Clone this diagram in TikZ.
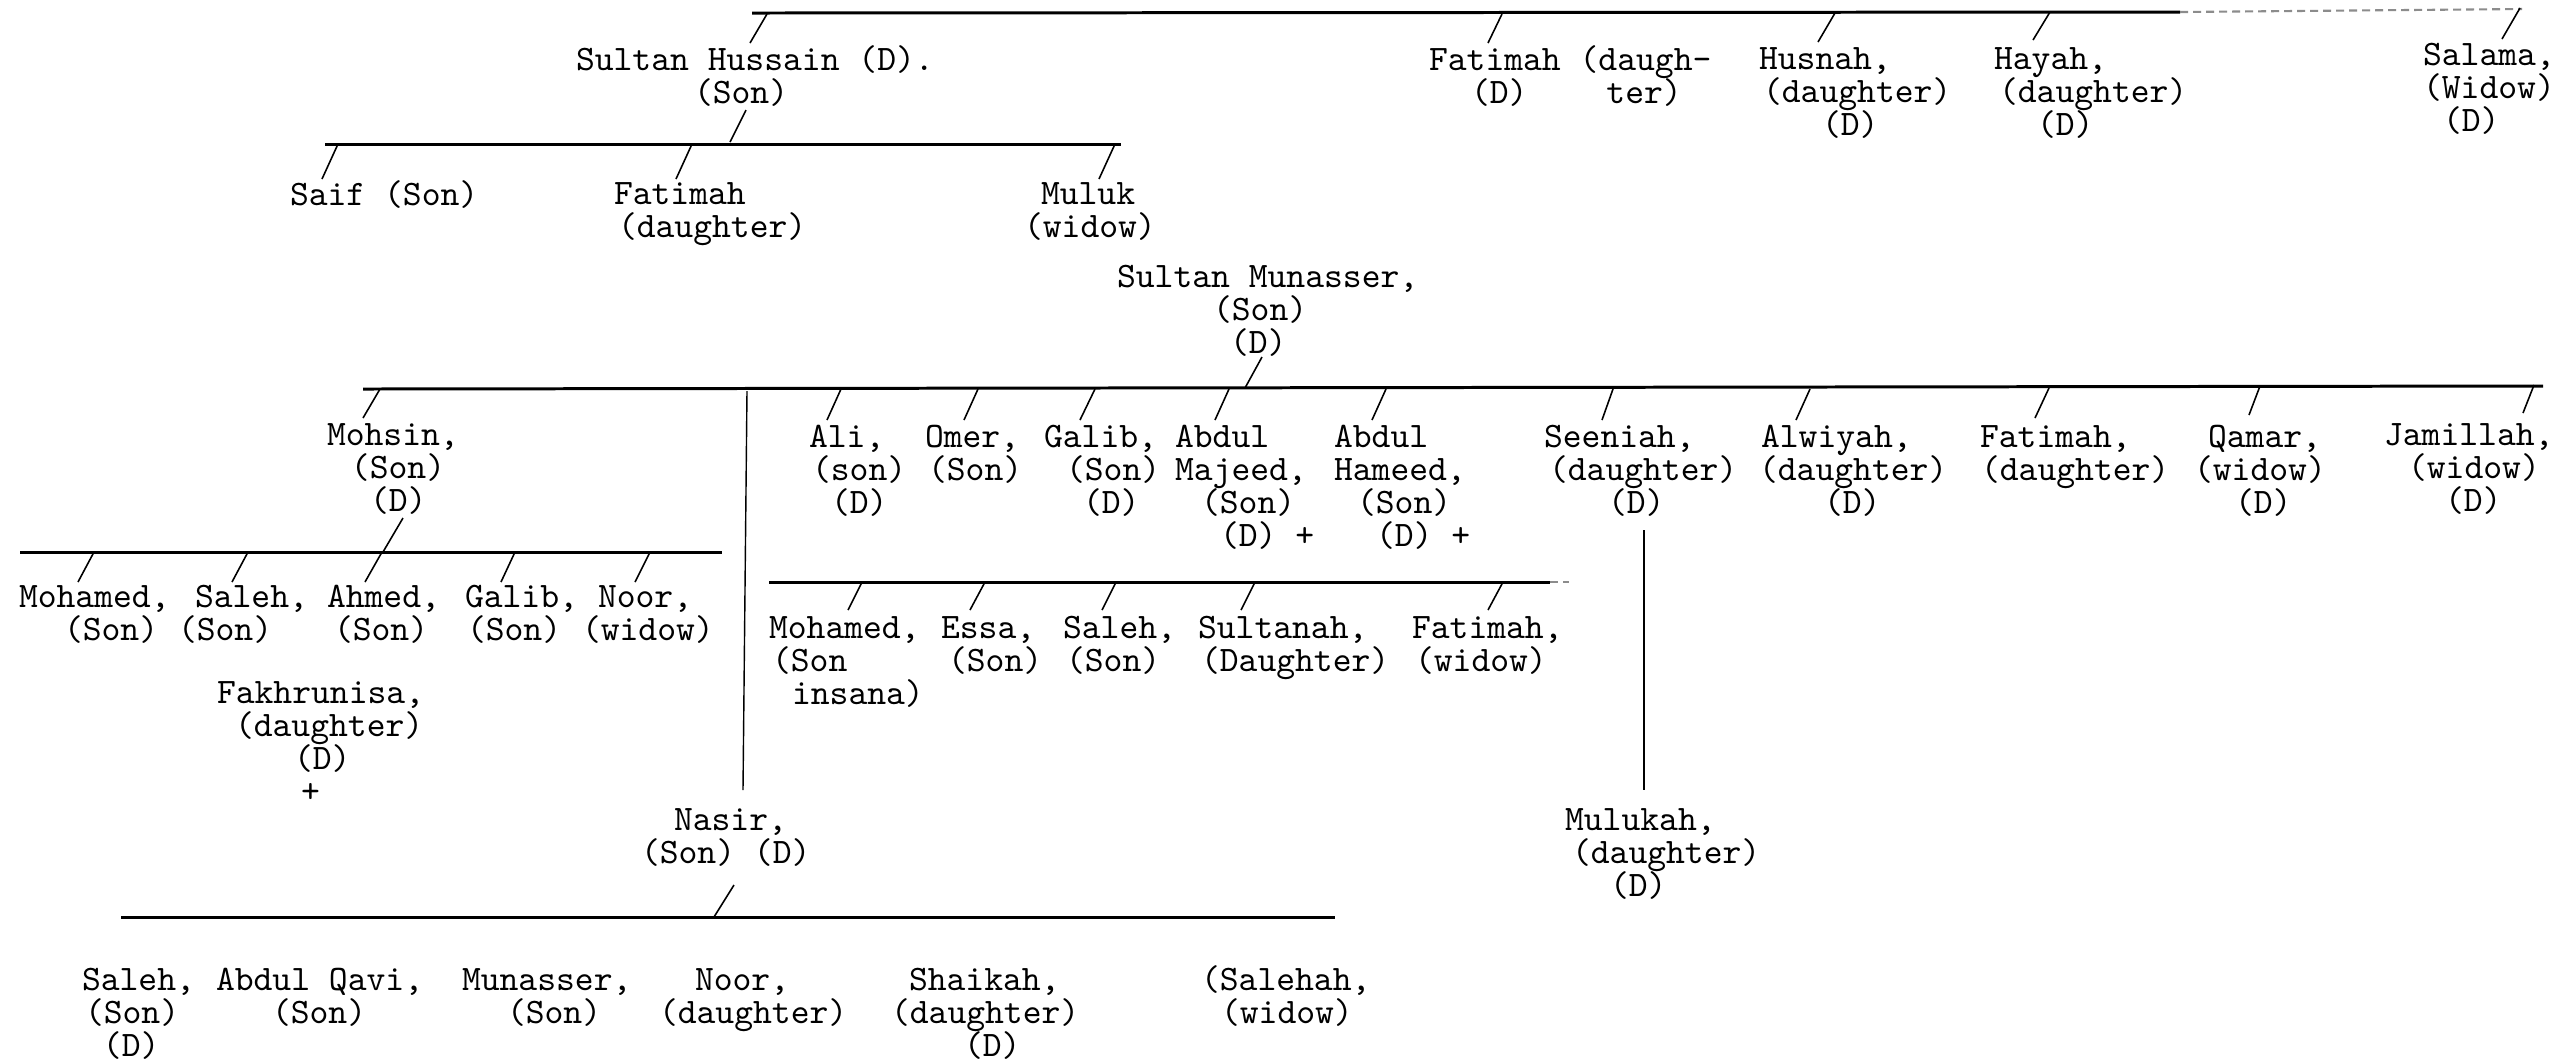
\documentclass[tikz,border=0pt]{standalone}
\usepackage{fontspec}
\usetikzlibrary{calc}
\newlength\pxu \setlength\pxu{0.01cm}
\newcommand\ind[1]{\hspace*{#1\pxu}}
\def\plbr{\egroup\hbox\bgroup}
\newcommand\pl[1]{\vtop{\lineskiplimit=-30pt\baselineskip=0.33cm\relax\let\\\plbr\hbox\bgroup#1\egroup}}
\newcommand\lk[3]{\draw[sl] ($(#1.base west)+(#2)$) -- ++(#3);}
\tikzset{
 person/.style={anchor=base west, inner sep=0pt, outer sep=0pt,
   font={\fontsize{10.2}{9.39}\ttfamily}},
 bus/.style={line width=0.85pt},
 faint/.style={line width=0.6pt, black!45, dash pattern=on 0.08cm off 0.05cm},
 sl/.style={line width=0.45pt},
 vl/.style={line width=0.4pt},
}
\begin{document}
\begin{tikzpicture}[x=0.01cm,y=-0.01cm]
\useasboundingbox[fill=white] (0,0) rectangle (2562,1062);

% ---------- row 1 ----------
\node[person] (sh) at (576,70) {\pl{Sultan Hussain (D).\\\ind{118}(Son)}};
\node[person] (fat1) at (1429,70) {\pl{Fatimah (daugh-\\\ind{42}(D)\ind{79}ter)}};
\node[person] (husnah) at (1759,69) {\pl{Husnah,\\\ind{4}(daughter)\\\ind{63}(D)}};
\node[person] (hayah) at (1994,69) {\pl{Hayah,\\\ind{5}(daughter)\\\ind{43}(D)}};
\node[person] (salama) at (2423,65) {\pl{Salama,\\(Widow)\\\ind{20}(D)}};

\coordinate (b1a) at (752,13);
\coordinate (b1b) at (2180,12);
\coordinate (b1c) at (2522,9);
\draw[bus] (b1a) -- (b1b);
\draw[faint] (b1b) -- (b1c);
\lk{sh}{174,-27}{17,-29}
\lk{fat1}{59,-27}{14,-29}
\lk{husnah}{59,-27}{17,-29}
\lk{hayah}{39,-29}{17,-28}
\lk{salama}{79,-26}{18,-31}

% ---------- row 2 ----------
\node[person] (saif) at (290,205) {\pl{Saif (Son)}};
\node[person] (fat2) at (614,204) {\pl{Fatimah\\\ind{4}(daughter)}};
\node[person] (muluk) at (1024,204) {\pl{\ind{17}Muluk\\(widow)}};

\coordinate (b2a) at (325,144);
\coordinate (b2b) at (1121,144);
\draw[bus] (b2a) -- (b2b);
\lk{sh}{170,40}{-16,32}
\lk{saif}{32,-26}{16,-35}
\lk{fat2}{62,-25}{16,-35}
\lk{muluk}{75,-25}{16,-35}

% ---------- Sultan Munasser ----------
\node[person] (sm) at (1117,287) {\pl{Sultan Munasser,\\\ind{96}(Son)\\\ind{113}(D)}};
\coordinate (b3a) at (363,389);
\coordinate (b3b) at (2543,386);
\draw[bus] (b3a) -- (b3b);
\lk{sm}{145,70}{-17,31}

\node[person] (mohsin) at (327,445) {\pl{Mohsin,\\\ind{24}(Son)\\\ind{43}(D)}};
\node[person] (ali) at (809,447) {\pl{Ali,\\\ind{3}(son)\\\ind{22}(D)}};
\node[person] (omer) at (925,447) {\pl{Omer,\\\ind{3}(Son)}};
\node[person] (galib) at (1044,447) {\pl{Galib,\\\ind{22}(Son)\\\ind{39}(D)}};
\node[person] (amaj) at (1175,447) {\pl{Abdul\\Majeed,\\\ind{26}(Son)\\\ind{45}(D) +}};
\node[person] (aham) at (1334,447) {\pl{Abdul\\Hameed,\\\ind{23}(Son)\\\ind{42}(D) +}};
\node[person] (seeniah) at (1544,447) {\pl{Seeniah,\\\ind{5}(daughter)\\\ind{64}(D)}};
\node[person] (alwiyah) at (1759,447) {\pl{\ind{2}Alwiyah,\\(daughter)\\\ind{65}(D)}};
\node[person] (fat3) at (1980,447) {\pl{Fatimah,\\\ind{1}(daughter)}};
\node[person] (qamar) at (2194,447) {\pl{\ind{14}Qamar,\\(widow)\\\ind{41}(D)}};
\node[person] (jamillah) at (2384,445) {\pl{Jamillah,\\\ind{24}(widow)\\\ind{61}(D)}};

\lk{mohsin}{36,-27}{17,-29}
\lk{ali}{18,-27}{14,-31}
\lk{omer}{39,-27}{14,-31}
\lk{galib}{36,-27}{15,-31}
\lk{amaj}{40,-27}{14,-31}
\lk{aham}{38,-27}{14,-31}
\lk{seeniah}{58,-27}{11,-31}
\lk{alwiyah}{37,-27}{14,-31}
\lk{fat3}{55,-29}{14,-30}
\lk{qamar}{55,-32}{11,-29}
\lk{jamillah}{139,-32}{11,-28}

% ---------- Mohsin's family ----------
\coordinate (b4a) at (20,552);
\coordinate (b4b) at (722,552);
\draw[bus] (b4a) -- (b4b);
\lk{mohsin}{76,73}{-20,34}

\node[person] (moh1) at (19,607) {\pl{Mohamed,\\\ind{45}(Son)}};
\node[person] (sal1) at (178,607) {\pl{\ind{17}Saleh,\\(Son)}};
\node[person] (ahm) at (327,607) {\pl{Ahmed,\\\ind{7}(Son)}};
\node[person] (gal1) at (465,607) {\pl{Galib,\\\ind{2}(Son)}};
\node[person] (noor1) at (582,607) {\pl{\ind{16}Noor,\\(widow)}};
\lk{moh1}{59,-25}{16,-30}
\lk{sal1}{54,-25}{16,-30}
\lk{ahm}{38,-25}{17,-30}
\lk{gal1}{36,-25}{14,-30}
\lk{noor1}{53,-25}{15,-30}

\node[person] (fakh) at (217,703) {\pl{Fakhrunisa,\\\ind{18}(daughter)\\\ind{77}(D)\\\ind{84}+}};

% ---------- second group under the long line ----------
\coordinate (b5a) at (769,582);
\coordinate (b5b) at (1550,582);
\coordinate (b5c) at (1569,582);
\draw[bus] (b5a) -- (b5b);
\draw[faint] (b5b) -- (b5c);

\node[person] (moh2) at (769,638) {\pl{Mohamed,\\\ind{3}(Son\\\ind{23}insana)}};
\node[person] (essa) at (941,638) {\pl{Essa,\\\ind{7}(Son)}};
\node[person] (sal2) at (1063,638) {\pl{Saleh,\\\ind{3}(Son)}};
\node[person] (sult) at (1198,638) {\pl{Sultanah,\\\ind{3}(Daughter)}};
\node[person] (fat4) at (1412,638) {\pl{Fatimah,\\\ind{3}(widow)}};
\lk{moh2}{79,-28}{14,-28}
\lk{essa}{29,-28}{15,-28}
\lk{sal2}{39,-28}{14,-28}
\lk{sult}{43,-28}{14,-28}
\lk{fat4}{76,-28}{15,-28}

% ---------- Nasir ----------
\node[person] (nasir) at (641,830) {\pl{\ind{33}Nasir,\\(Son) (D)}};
\draw[vl] (747,391) -- ($(nasir.base west)+(102,-40)$);

\coordinate (b6a) at (121,917);
\coordinate (b6b) at (1335,917);
\draw[bus] (b6a) -- (b6b);
\lk{nasir}{93,55}{-20,32}

\node[person] (sal3) at (82,990) {\pl{Saleh,\\\ind{3}(Son)\\\ind{21}(D)}};
\node[person] (aqavi) at (216,990) {\pl{Abdul Qavi,\\\ind{56}(Son)}};
\node[person] (mun) at (462,990) {\pl{Munasser,\\\ind{45}(Son)}};
\node[person] (noor2) at (659,990) {\pl{\ind{36}Noor,\\(daughter)}};
\node[person] (shaikah) at (891,990) {\pl{\ind{18}Shaikah,\\(daughter)\\\ind{73}(D)}};
\node[person] (salehah) at (1201,990) {\pl{(Salehah,\\\ind{20}(widow)}};

% ---------- Mulukah ----------
\node[person] (mulukah) at (1565,830) {\pl{Mulukah,\\\ind{7}(daughter)\\\ind{45}(D)}};
\draw[vl] ($(seeniah.base west)+(100,83)$) -- ($(mulukah.base west)+(79,-40)$);
\end{tikzpicture}
\end{document}
